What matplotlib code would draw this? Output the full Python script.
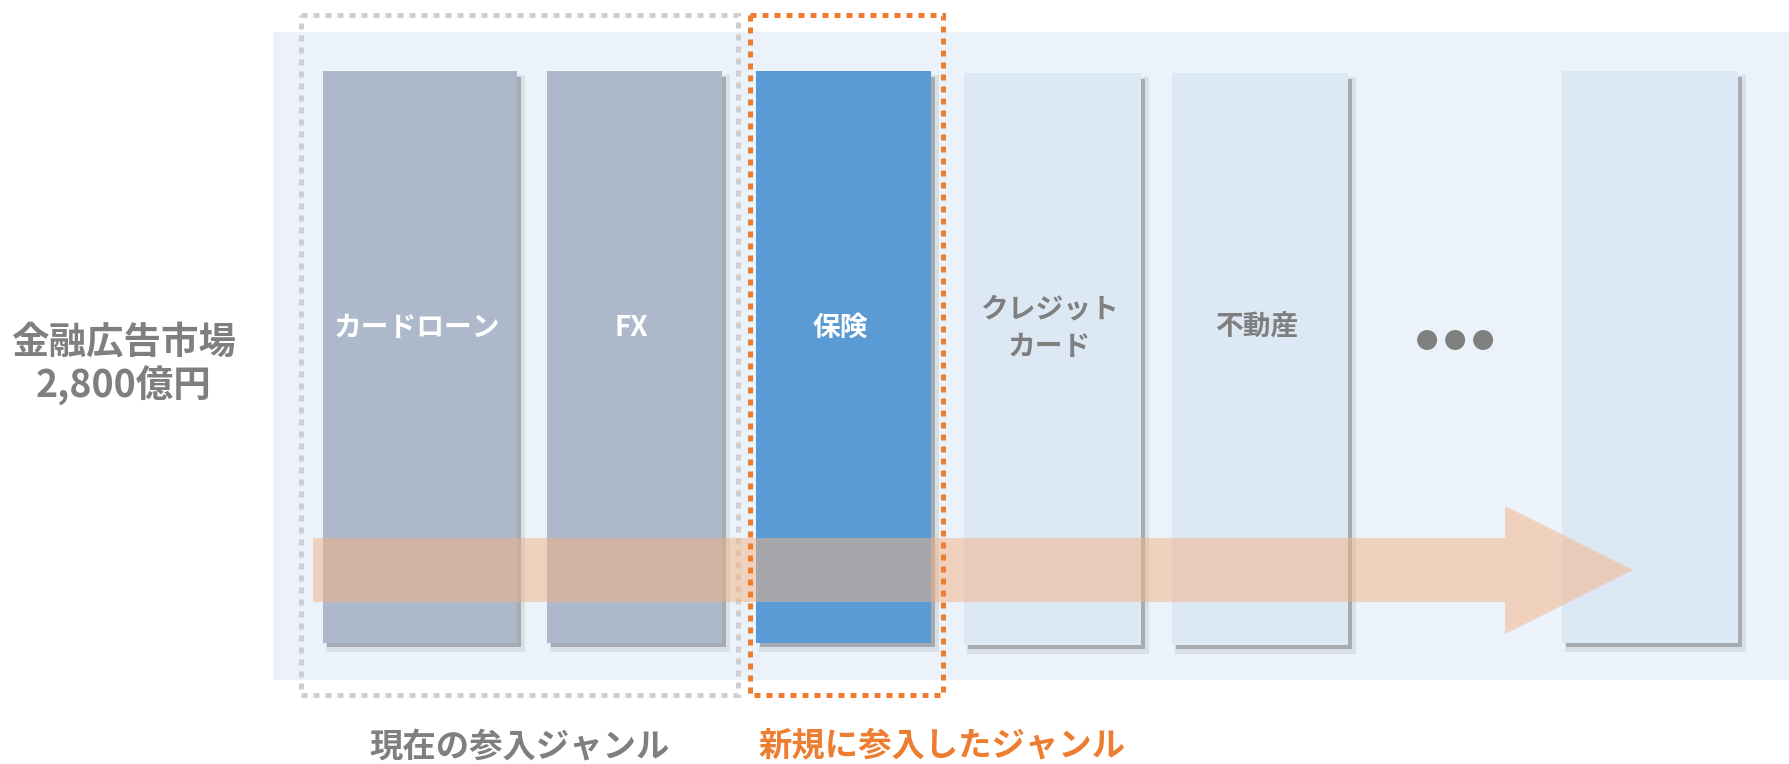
import matplotlib
matplotlib.use("Agg")
import matplotlib.pyplot as plt
from matplotlib.patches import Rectangle, Polygon

plt.rcParams['font.family'] = ['Noto Sans CJK JP', 'DejaVu Sans']

# データ
genres = ['カードローン', 'FX', '保険', 'クレジット\nカード', '不動産', '']
genre_status = ['current', 'current', 'new', 'other', 'other', 'other']
relative_size = [1.0, 1.0, 1.0, 1.0, 1.0, 1.0]
market_label = ['金融広告市場', '2,800億円']
group_labels = ['現在の参入ジャンル', '新規に参入したジャンル']
more_mark = ['●', '●', '●']

# レイアウト（ピクセル座標、上から下へ）
W, H = 1789, 764
bar_left = [323, 547, 756, 964, 1172, 1562]
bar_width = [194, 175, 175, 177, 176, 176]
bar_top = [71, 71, 71, 73, 73, 71]
full_h = 572

fill_col = {'current': '#adb9ca', 'new': '#5b9bd5', 'other': '#dde8f5'}
text_col = {'current': 'white', 'new': 'white', 'other': '#7f7f7f'}
gray_txt = '#7f7f7f'
orange = '#ed7d31'

fig = plt.figure(figsize=(W / 100, H / 100), dpi=100)
ax = fig.add_axes([0, 0, 1, 1])
ax.set_xlim(0, W)
ax.set_ylim(H, 0)
ax.axis('off')

# 背景パネル
ax.add_patch(Rectangle((273, 32), W - 273, 680 - 32, color='#ebf2fa', lw=0, zorder=0))

# 影 + 棒
heights = [v * full_h for v in relative_size]
for l, w, t, h in zip(bar_left, bar_width, bar_top, heights):
    ax.add_patch(Rectangle((l + 3, t + 4), w + 5, h + 5, color='#d9dfe7', lw=0, zorder=1))
    ax.add_patch(Rectangle((l + 4, t + 6), w, h - 2, color='#a6abb1', lw=0, zorder=1.5))

ax.bar(bar_left, heights, width=bar_width, bottom=bar_top, align='edge',
       color=[fill_col[s] for s in genre_status], lw=0, zorder=2)

for l, w, t, h, name, s in zip(bar_left, bar_width, bar_top, heights, genres, genre_status):
    if not name:
        continue
    ax.text(l + w / 2 - 3, 328, name, ha='center', va='center', fontsize=20,
            fontweight='bold', color=text_col[s], linespacing=1.45, zorder=5)

# ・・・
for i, m in enumerate(more_mark):
    ax.text(1427 + 28 * i, 341, m, ha='center', va='center', fontsize=16,
            color=gray_txt, zorder=5)

# 左のラベル
ax.text(124, 342, market_label[0], ha='center', va='center', fontsize=27,
        fontweight='bold', color=gray_txt)
ax.text(124, 386, market_label[1], ha='center', va='center', fontsize=27,
        fontweight='bold', color=gray_txt)

# 点線の枠（グレーは矢印の下）
ax.add_patch(Rectangle((301, 15), 738 - 301, 695 - 15, fill=False, edgecolor='#d0cece',
                       lw=3.6, ls=(0, (1.2, 1.2)), zorder=3))

# 矢印
arrow = Polygon([(313, 538), (1505, 538), (1505, 506), (1633, 570),
                 (1505, 634), (1505, 602), (313, 602)],
                closed=True, color='#f4b183', alpha=0.5, lw=0, zorder=4)
ax.add_patch(arrow)

ax.add_patch(Rectangle((750, 15), 943 - 750, 695 - 15, fill=False, edgecolor=orange,
                       lw=3.6, ls=(0, (1.2, 1.2)), zorder=6))

# 下のラベル
ax.text(520, 747, group_labels[0], ha='center', va='center', fontsize=24,
        fontweight='bold', color=gray_txt)
ax.text(942, 747, group_labels[1], ha='center', va='center', fontsize=24,
        fontweight='bold', color=orange)

fig.savefig('out.png', dpi=100)
